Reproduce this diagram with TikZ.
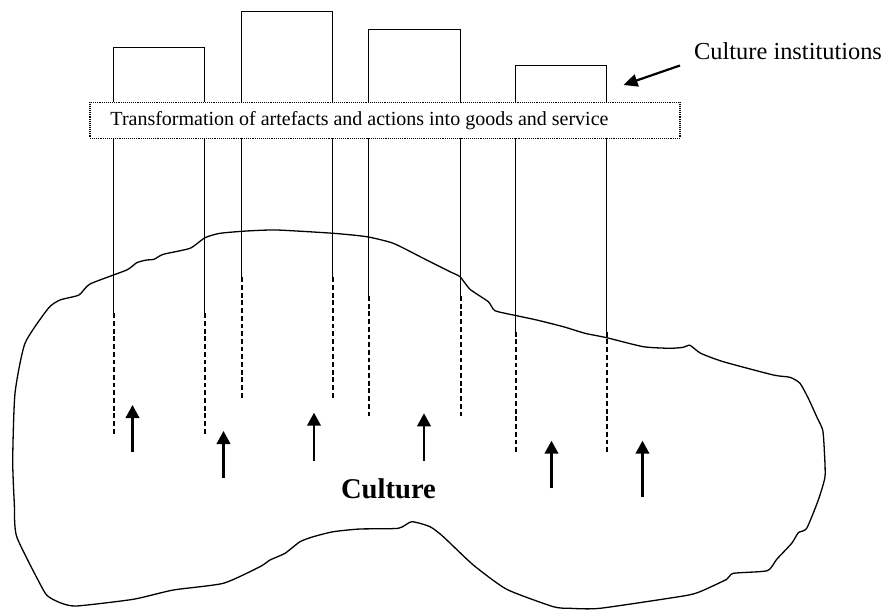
\documentclass[tikz,border=0pt]{standalone}
\usepackage{fontspec}
\setmainfont{Liberation Serif}
\usetikzlibrary{arrows.meta}
\tikzset{
  wall/.style={line width=1.1pt},
  stub/.style={line width=2pt, dash pattern=on 4.8pt off 2.9pt},
  band/.style={draw, fill=white, line width=1.5pt, dash pattern=on 1pt off 0.9pt,
               minimum width=590pt, minimum height=36pt, inner sep=0pt},
  outline/.style={line width=1.3pt, line join=round},
  uparrow/.style={line width=2.4pt, -{Triangle[length=13pt,width=13.5pt]}},
  pointer/.style={line width=2.2pt, -{Triangle[length=14pt,width=12.5pt]}},
}
\begin{document}
\begin{tikzpicture}[x=1pt,y=-1pt]
\useasboundingbox (0,0) rectangle (884,610);

% the area of culture
\draw[outline] plot[smooth cycle, tension=0.35] coordinates {
  (48.3,308.3) (60,300) (79,295) (90,284) (126.7,270) (136.7,262.7)
  (146.7,260) (154,259.3) (163.3,254.3) (190,248.3) (205,237.7)
  (220,233.3) (246.7,231) (276.7,230) (333.3,233.3) (366.7,236.7)
  (393.3,243.3) (423.3,258.3) (450,271.7) (460,276.7) (470,289.3)
  (488.3,301.7) (495,310.7) (516.7,315.7) (536.7,320) (563.3,326.7)
  (585,333.3) (606.7,337.7) (643.3,346.7) (670,348.3) (683.3,347.3)
  (690,345.3) (700.7,353.3) (723.3,361.7) (773.3,375) (790,377.3)
  (800,383.3) (808.3,398.3) (816.7,416.7) (822.7,430) (824.3,450)
  (825,476.7) (818.3,500) (806.7,528.3) (798.3,532.7) (791.7,543.3)
  (776.7,559.3) (767.3,570.7) (733.3,573.3) (726.7,579.3) (700,591.7)
  (683.3,596) (600,608.3) (570,608.3) (553.3,606.7) (506.7,589.3)
  (473.3,565) (443.3,536.7) (430,526.7) (411.7,521.7) (398.3,528.3)
  (360,529) (333.3,531.7) (313.3,536.7) (300,541.7) (285,553.3)
  (270,560) (260,566.7) (223.3,583.3) (173.3,590) (133.3,599.3)
  (76.7,606) (61.7,603.3) (50,597.7) (43.3,590) (16.7,536.7)
  (14.3,503.3) (12.7,460) (15,393.3) (25,343.3)
};

% institutions: box top and walls reaching down into culture
\foreach \xl/\xr/\yt/\ys/\yd in {113.5/204.5/47.5/313.3/436,
                                 241.5/332.5/11.5/277.3/400,
                                 368.5/460.5/29.5/296/417.7,
                                 515.5/606.5/65.5/331.7/454.3} {
  \draw[wall] (\xl,\ys) -- (\xl,\yt) -- (\xr,\yt) -- (\xr,\ys);
  \draw[stub] (\xl,\ys) -- (\xl,\yd);
  \draw[stub] (\xr,\ys) -- (\xr,\yd);
}

% transformation band across the institutions
\node[band] (band) at (385,120.3) {};
\node[font=\fontsize{20}{24}\selectfont, anchor=base, inner sep=0pt] (bandtext)
  at (359.5,125.5) {Transformation of artefacts and actions into goods and service};

% label with pointer
\node[font=\fontsize{24.4}{29}\selectfont, anchor=base west, inner sep=0pt] (inst)
  at (694,60) {Culture institutions};
\coordinate (ptail) at (680,65.5);
\coordinate (ptip) at (623.5,85);
\draw[pointer] (ptail) -- (ptip);

% culture pushing upwards
\foreach \x/\ya/\yb in {132.5/451.7/405, 223.5/478.3/431, 314/460.7/412.7,
                        424/460.7/413.3, 551.5/488.3/440.7, 642.5/496.7/440.7} {
  \draw[uparrow] (\x,\ya) -- (\x,\yb);
}

\node[font=\bfseries\fontsize{28.6}{34}\selectfont, anchor=base, inner sep=0pt] (culture)
  at (388.5,498) {Culture};
\end{tikzpicture}
\end{document}
